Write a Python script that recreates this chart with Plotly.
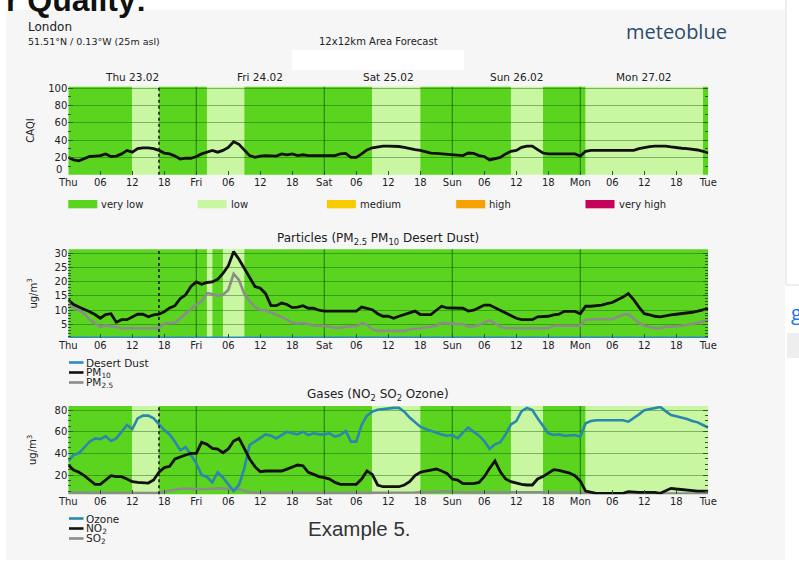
import plotly.graph_objects as go

W, H = 799, 563

# ---------------- data ----------------
HOURS = list(range(121))
DAY_NAMES = ["Thu", "Fri", "Sat", "Sun", "Mon", "Tue"]
DAY_DATES = ["Thu 23.02", "Fri 24.02", "Sat 25.02", "Sun 26.02", "Mon 27.02"]
TICK_HOURS = list(range(0, 121, 6))
TICK_TEXT = [DAY_NAMES[h // 24] if h % 24 == 0 else f"{h % 24:02d}" for h in TICK_HOURS]
NOW_HOUR = 17

LEVELS = ["very low", "low", "medium", "high", "very high"]
LEVEL_COLORS = ["#5bd41f", "#c9f6a0", "#f6cc00", "#f7a100", "#c5005b"]

# background bands: start hour and CAQI level index (band ends at next start / 120)
CAQI_BAND_START = [0, 12, 17, 26, 33, 57, 66, 83, 89, 97, 119]
CAQI_BAND_LEVEL = [0, 1, 0, 1, 0, 1, 0, 1, 0, 1, 0]
PART_BAND_START = [0, 26, 27, 29, 33]
PART_BAND_LEVEL = [0, 1, 0, 1, 0]
GAS_BAND_START = [0, 12, 17, 57, 66, 83, 89, 97]
GAS_BAND_LEVEL = [0, 1, 0, 1, 0, 1, 0, 1]

CAQI = [20, 17, 16, 18.5, 21, 21.5, 22, 24, 21, 21.5, 24, 28, 26, 30, 31, 31, 30, 28, 25, 24, 21.5, 18, 19, 19,
        21, 24, 26, 28, 26, 28, 31.5, 38, 35, 28.5, 22, 20, 21.5, 22, 21.5, 21.5, 24, 23, 24, 22, 23, 22, 22, 22,
        22, 21.5, 22, 24, 24.5, 20, 20, 24, 28.5, 31, 32, 33, 33, 33, 32.5, 31.5, 30, 29, 28, 26.5, 25, 24.5, 24, 23.5,
        23, 22, 22, 25, 24.5, 22, 21, 17, 18.5, 20, 24, 27, 28, 31.5, 33, 33, 29, 25, 24, 24, 24, 24, 24, 24,
        21.5, 27, 28, 28, 28, 28, 28, 28, 28, 28, 28, 30, 31.5, 32.5, 33, 33, 33, 32, 31, 30.5, 30, 29.5, 28.5, 27,
        25]

PM10 = [13.7, 12, 11.1, 10.4, 9.5, 8.5, 7.2, 8.5, 8.8, 5.8, 6.7, 6.7, 7.7, 8.6, 8.6, 7.7, 8.4, 8.6, 9.5, 10.8, 11.6, 14.1, 15.4, 18.3,
        19.9, 19.1, 19.7, 19.9, 20.8, 22.9, 25.5, 30.5, 27.8, 24.7, 21.6, 18.3, 17.7, 15.8, 11.6, 11.6, 12.5, 12, 10.9, 11.1, 11.6, 10.7, 10.7, 10,
        9.7, 9.7, 9.7, 9.7, 9.7, 9.7, 9.7, 11.1, 10.7, 10.2, 8.8, 7.9, 7.9, 7.2, 7.9, 8.5, 9, 9.7, 8.5, 8.5, 8.5, 10, 11.4, 10.8,
        10.8, 10.8, 10.7, 9.7, 10, 10.9, 11.8, 11.8, 10.9, 10, 9, 8.1, 7.2, 6.7, 6.7, 6.7, 7.7, 7.7, 7.9, 8.4, 8.6, 9.6, 9.6, 9.6,
        8.8, 11.4, 11.4, 11.6, 11.8, 12.3, 12.7, 13.7, 14.6, 15.8, 13.7, 11.1, 8.8, 8.4, 7.9, 7.7, 8.1, 8.4, 8.6, 8.8, 9, 9.3, 9.7, 10.1,
        10.6]

PM25 = [12, 10.8, 10, 8.8, 6.7, 5.4, 4.2, 4.7, 4.4, 4.2, 3.7, 3.7, 3.7, 3.7, 3.7, 3.7, 3.7, 3.7, 5.4, 5.6, 5.6, 7.2, 8.8, 10.2,
        12, 13.1, 16, 15.7, 15, 15.4, 17.1, 22.7, 20.6, 15.7, 13.1, 11.1, 10, 10, 9.3, 8.5, 7.7, 6.7, 5.6, 5.4, 5.6, 5.1, 4.6, 4.6,
        4.6, 4.2, 3.8, 3.9, 4.2, 4.4, 4.4, 5.6, 4.9, 3.3, 2.8, 2.8, 2.8, 2.8, 2.8, 2.8, 3.3, 3.5, 3.8, 3.8, 4.2, 4.6, 5.6, 5.4,
        5.4, 5.1, 5.1, 4.2, 4.4, 4.9, 5.6, 6.5, 5.4, 4.2, 3.7, 3.7, 3.7, 3.7, 3.7, 3.7, 3.7, 3.7, 3.7, 4.6, 4.6, 4.6, 4.6, 4.6,
        4.6, 6.7, 6.9, 6.9, 6.9, 6.9, 6.9, 7.7, 8.4, 8.6, 7.2, 5.6, 4.6, 4.2, 3.7, 3.7, 4.2, 4.3, 4.4, 4.6, 4.9, 5.2, 5.6, 6.1,
        6.7]

DUST = [0.4, 0.4, 0.4, 0.4, 0.4, 0.4, 0.4, 0.4, 0.4, 0.4, 0.4, 0.4, 0.4, 0.4, 0.4, 0.4, 0.4, 0.4, 0.4, 0.4, 0.4, 0.4, 0.4, 0.4,
        0.4, 0.4, 0.4, 0.4, 0.4, 0.4, 0.4, 0.4, 0.4, 0.4, 0.4, 0.4, 0.4, 0.4, 0.4, 0.4, 0.4, 0.4, 0.4, 0.4, 0.4, 0.4, 0.4, 0.4,
        0.4, 0.4, 0.4, 0.4, 0.4, 0.4, 0.4, 0.4, 0.4, 0.4, 0.4, 0.4, 0.4, 0.4, 0.4, 0.4, 0.4, 0.4, 0.4, 0.4, 0.4, 0.4, 0.4, 0.4,
        0.4, 0.4, 0.4, 0.4, 0.4, 0.4, 0.4, 0.4, 0.4, 0.4, 0.4, 0.4, 0.4, 0.4, 0.4, 0.4, 0.4, 0.4, 0.4, 0.4, 0.4, 0.4, 0.4, 0.4,
        0.4, 0.4, 0.4, 0.4, 0.4, 0.4, 0.4, 0.4, 0.4, 0.4, 0.4, 0.4, 0.4, 0.4, 0.4, 0.4, 0.4, 0.4, 0.4, 0.4, 0.4, 0.4, 0.4, 0.4,
        0.4]

OZONE = [32.9, 38.5, 40.3, 45.2, 50.8, 53.8, 53.2, 55.7, 51.4, 53.8, 60, 66.2, 62.5, 72.3, 74.8, 74.8, 72.3, 66.8, 61.5, 57.5, 50.8, 42.8, 45.8, 38.5,
         30.8, 20, 18.2, 13.2, 22.5, 17.5, 10.8, 5.2, 10.8, 26.2, 47.7, 50.8, 54.5, 57.5, 56.3, 53.8, 56.9, 60, 58.5, 57.5, 60, 56.9, 58.5, 57.5,
         57.5, 58.5, 55.4, 56.9, 60.6, 50.8, 50.8, 66.2, 74.8, 78.5, 80.3, 81, 81.5, 82, 82, 78.5, 73, 68.6, 64.6, 62.5, 60.6, 59.4, 57.5, 56.3,
         56.9, 53.8, 59.4, 63.7, 60, 56.3, 51.4, 44, 48.3, 50.2, 57.5, 66.8, 69.8, 79, 82, 80, 72.3, 65.5, 58.5, 56.9, 57.5, 56.3, 56.9, 56.9,
         55.4, 67.7, 69.8, 70.5, 70.5, 70.5, 70.5, 70.5, 70.5, 69.2, 72.3, 76, 79.7, 80.6, 81.5, 82.8, 79, 75.4, 74.2, 73, 71.7, 69.8, 68.6, 66.2,
         63.7]

NO2 = [29.2, 24.6, 22.5, 19.4, 15.4, 11.4, 11.4, 15.4, 19.4, 18.5, 18.5, 16.3, 13.8, 13.2, 12.6, 12.6, 15.4, 22.5, 26.8, 28, 34.8, 36.9, 38.5, 40,
       40, 50.2, 48.3, 44.6, 44, 40.6, 44, 51.4, 53.8, 44.6, 34.8, 27.7, 23, 23.7, 23.7, 23.7, 23.7, 25.5, 27.7, 29.2, 28.6, 22.5, 20.6, 18.5,
       17.5, 16.3, 13.2, 11.4, 11.4, 11.4, 11.4, 16.3, 23.7, 20.6, 10.8, 9.2, 9.2, 9.2, 9.2, 10.8, 13.8, 19.4, 22.5, 23.7, 24.6, 25.5, 23.7, 21.5,
       16.3, 15.4, 12, 12, 12, 13.2, 18.5, 26.2, 32.9, 23, 16.3, 13.8, 12.3, 11.4, 10.8, 10.8, 16.3, 18.5, 21.8, 24.9, 24.3, 23, 21.8, 19.4,
       14.5, 5.2, 4, 3.1, 3.1, 3.1, 3.1, 3.1, 3.1, 4.6, 4, 4, 4, 4, 4, 3.1, 5.2, 7.7, 7.1, 6.5, 5.8, 5.2, 5.2, 5.2,
       5.2]

SO2 = [4, 3.8, 3.6, 3.5, 3.5, 3.5, 3.5, 3.5, 3.4, 3.3, 3.2, 3.2, 3.2, 3.2, 3.2, 3.2, 3.2, 3.3, 4.5, 5.5, 6.5, 7.2, 7.5, 7.5,
       7, 6.8, 7.2, 7.5, 7.8, 7.6, 7.4, 7.8, 7, 5.2, 4, 3.6, 3.5, 3.5, 3.5, 3.4, 3.4, 3.5, 3.5, 3.5, 3.6, 3.5, 3.4, 3.4,
       3.4, 3.5, 3.5, 3.5, 3.6, 3.6, 3.5, 3.5, 3.4, 3.3, 3.3, 3.3, 3.3, 3.3, 3.4, 3.5, 3.6, 3.8, 4, 4.2, 4.5, 4.8, 5.2, 5,
       4.6, 4.2, 4, 4, 4, 4, 4.2, 4.5, 4.4, 4.2, 4, 4, 4, 4, 4, 4, 4, 4.2, 4.4, 4.6, 4.6, 4.4, 4.2, 4,
       3.6, 3, 2.8, 2.8, 2.8, 2.8, 2.8, 2.8, 2.8, 2.8, 2.8, 2.8, 2.8, 2.8, 2.8, 2.8, 2.8, 2.8, 2.8, 2.8, 2.8, 2.8, 2.8, 2.8,
       2.8]

CAQI_YTICKS = [0, 20, 40, 60, 80, 100]
PART_YTICKS = [5, 10, 15, 20, 25, 30]
GAS_YTICKS = [20, 40, 60, 80]

# ---------------- layout helpers ----------------
def px(x):
    return x / W

def py(y):
    return 1 - y / H

X0, X1 = 68.3, 708.3
PANELS = [  # (top px, bottom px, y-range)
    (86.7, 174.7, [0, 101.5]),
    (249.3, 338.0, [0.3, 31.3]),
    (406.0, 494.3, [2.2, 83.7]),
]

FONT = "DejaVu Sans"
TXT = "#222222"
GRID = "rgba(0,70,0,0.38)"

fig = go.Figure()

def add_line(y, panel, color, width=2.6):
    sfx = "" if panel == 0 else str(panel + 1)
    fig.add_trace(go.Scatter(x=HOURS, y=y, mode="lines", xaxis="x" + sfx, yaxis="y" + sfx,
                             line=dict(color=color, width=width), showlegend=False, hoverinfo="skip"))

add_line(CAQI, 0, "#111111", 2.8)
add_line(DUST, 1, "#2b8cc4", 2.6)
add_line(PM25, 1, "#8c8c8c", 2.6)
add_line(PM10, 1, "#111111", 2.8)
add_line(SO2, 2, "#8c8c8c", 2.6)
add_line(OZONE, 2, "#2a87ad", 2.6)
add_line(NO2, 2, "#111111", 2.8)

shapes = []
# page card
shapes.append(dict(type="rect", xref="paper", yref="paper", x0=px(6), x1=px(785), y0=py(560), y1=py(10),
                   fillcolor="#f6f6f6", line=dict(width=0), layer="below"))
# right-side page fragments
shapes.append(dict(type="rect", xref="paper", yref="paper", x0=px(786), x1=px(805), y0=py(285), y1=py(-5),
                   fillcolor="#ffffff", line=dict(color="#dddddd", width=1), layer="below"))
shapes.append(dict(type="rect", xref="paper", yref="paper", x0=px(787), x1=px(805), y0=py(358), y1=py(333),
                   fillcolor="#eeeeee", line=dict(width=0), layer="below"))
# white patch in the header
shapes.append(dict(type="rect", xref="paper", yref="paper", x0=px(292), x1=px(464), y0=py(70), y1=py(50),
                   fillcolor="#ffffff", line=dict(width=0), layer="below"))

band_sets = [(CAQI_BAND_START, CAQI_BAND_LEVEL), (PART_BAND_START, PART_BAND_LEVEL), (GAS_BAND_START, GAS_BAND_LEVEL)]
for i, (starts, levels) in enumerate(band_sets):
    sfx = "" if i == 0 else str(i + 1)
    ends = starts[1:] + [HOURS[-1]]
    for s, e, lv in zip(starts, ends, levels):
        shapes.append(dict(type="rect", xref="x" + sfx, yref="y" + sfx + " domain", x0=s, x1=e, y0=0, y1=1,
                           fillcolor=LEVEL_COLORS[lv], line=dict(width=0), layer="below"))
    for d in range(1, 5):
        shapes.append(dict(type="line", xref="x" + sfx, yref="y" + sfx + " domain", x0=d * 24, x1=d * 24, y0=0, y1=1,
                           line=dict(color="rgba(0,70,0,0.55)", width=1.2), layer="below"))
    shapes.append(dict(type="line", xref="x" + sfx, yref="y" + sfx + " domain", x0=NOW_HOUR, x1=NOW_HOUR, y0=0, y1=1,
                       line=dict(color="#1a1a1a", width=1.6, dash="dot"), layer="above"))

annotations = []

def ann(text, x, y, size=10, color=TXT, anchor="left", family=FONT, angle=0, yanchor="middle"):
    annotations.append(dict(text=text, x=px(x), y=py(y), xref="paper", yref="paper", showarrow=False,
                            xanchor=anchor, yanchor=yanchor, textangle=angle,
                            font=dict(family=family, size=size, color=color)))

# header
ann("<b>r Quality:</b>", 4, 0, size=32, color="#111111", family="Liberation Sans", anchor="left")
ann("London", 26, 27, size=12)
ann("51.51°N / 0.13°W (25m asl)", 26, 42, size=9.5)
ann("12x12km Area Forecast", 378, 42, size=10, anchor="center")
ann("meteoblue", 676, 32, size=20, color="#2c4c6a", family="Open Sans", anchor="center")
ann("g", 789, 312, size=20, color="#1a73e8", family="Open Sans", anchor="left")
for d, lab in enumerate(DAY_DATES):
    annotations.append(dict(text=lab, x=d * 24 + 12, y=py(77), xref="x", yref="paper", showarrow=False,
                            xanchor="center", yanchor="middle", font=dict(family=FONT, size=10.5, color=TXT)))

# lowest CAQI tick label sits slightly raised above the axis corner
annotations.append(dict(text=str(CAQI_YTICKS[0]), x=px(64), y=py(169.5), xref="paper", yref="paper",
                        showarrow=False, xanchor="right", yanchor="middle",
                        font=dict(family=FONT, size=10, color=TXT)))

# CAQI legend
for i, (lab, col) in enumerate(zip(LEVELS, LEVEL_COLORS)):
    x0 = 68.3 + i * 129.3
    shapes.append(dict(type="rect", xref="paper", yref="paper", x0=px(x0), x1=px(x0 + 29), y0=py(208.3), y1=py(200),
                       fillcolor=col, line=dict(width=0)))
    ann(lab, x0 + 31, 204, size=10)

# panel titles
ann("Particles (PM<sub>2.5</sub> PM<sub>10</sub> Desert Dust)", 378, 239, size=12, anchor="center")
ann("Gases (NO<sub>2</sub> SO<sub>2</sub> Ozone)", 378, 395, size=12, anchor="center")

# y axis titles
ann("CAQI", 31, 130.7, size=10, angle=-90, anchor="center")
ann("ug/m<sup>3</sup>", 32, 293.6, size=10, angle=-90, anchor="center")
ann("ug/m<sup>3</sup>", 32, 450, size=10, angle=-90, anchor="center")

# series legends
def leg(items, y0):
    for j, (lab, col) in enumerate(items):
        yy = y0 + j * 10
        shapes.append(dict(type="line", xref="paper", yref="paper", x0=px(69), x1=px(83.5), y0=py(yy), y1=py(yy),
                           line=dict(color=col, width=2.6)))
        ann(lab, 83.5, yy, size=10.5)

leg([("Desert Dust", "#2b8cc4"), ("PM<sub>10</sub>", "#111111"), ("PM<sub>2.5</sub>", "#8c8c8c")], 362.5)
leg([("Ozone", "#2a87ad"), ("NO<sub>2</sub>", "#111111"), ("SO<sub>2</sub>", "#8c8c8c")], 518.5)

ann("Example 5.", 359, 528.5, size=20.5, color="#333333", family="Liberation Sans", anchor="center")

layout = dict(width=W, height=H, margin=dict(l=0, r=0, t=0, b=0, pad=0, autoexpand=False),
              paper_bgcolor="#ffffff", plot_bgcolor="rgba(0,0,0,0)", shapes=shapes,
              annotations=annotations, showlegend=False)

YTICKS = [CAQI_YTICKS[1:], PART_YTICKS, GAS_YTICKS]
YMINOR = [10, 1, 5]
for i, (top, bot, rng) in enumerate(PANELS):
    sfx = "" if i == 0 else str(i + 1)
    layout["xaxis" + sfx] = dict(domain=[px(X0), px(X1)], range=[0, 120], anchor="y" + sfx,
                                 tickvals=TICK_HOURS, ticktext=TICK_TEXT, ticks="inside", ticklen=4,
                                 tickcolor="#335533", showgrid=False, zeroline=False, showline=False,
                                 automargin=False,
                                 tickfont=dict(family=FONT, size=10, color=TXT), fixedrange=True)
    layout["yaxis" + sfx] = dict(domain=[py(bot), py(top)], range=rng, anchor="x" + sfx,
                                 tickvals=YTICKS[i], ticks="inside", ticklen=5, tickcolor="#335533",
                                 mirror="ticks", showline=False, showgrid=True, gridcolor=GRID, gridwidth=1,
                                 zeroline=False, automargin=False,
                                 tickfont=dict(family=FONT, size=10, color=TXT),
                                 minor=dict(dtick=YMINOR[i], ticks="inside", ticklen=3, tickcolor="#335533",
                                            showgrid=False),
                                 fixedrange=True)

fig.update_layout(**layout)
fig.write_html("out.html", config={"displayModeBar": False},
               post_script="document.body.style.margin='0';document.body.style.overflow='hidden';")
